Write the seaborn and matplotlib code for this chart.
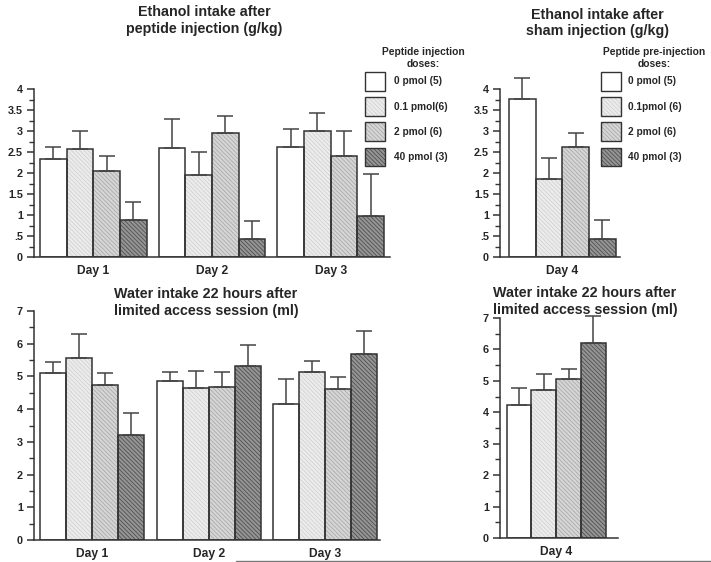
import numpy as np
import pandas as pd
import matplotlib
matplotlib.use('Agg')
import matplotlib.pyplot as plt
import seaborn as sns
from matplotlib.patches import Patch
from matplotlib.legend_handler import HandlerTuple
from matplotlib.ticker import MultipleLocator

# Data (rows = dose groups, columns = days)
days = ['Day 1', 'Day 2', 'Day 3']
day4 = ['Day 4']
doses = ['0 pmol (5)', '0.1 pmol(6)', '2 pmol (6)', '40 pmol (3)']
doses_sham = ['0 pmol (5)', '0.1pmol (6)', '2 pmol (6)', '40 pmol (3)']

eth_mean = [[2.34, 2.60, 2.61], [2.57, 1.95, 2.99], [2.05, 2.95, 2.40], [0.87, 0.44, 0.98]]
eth_sem = [[0.28, 0.69, 0.44], [0.44, 0.56, 0.44], [0.35, 0.41, 0.61], [0.43, 0.42, 0.99]]
eth4_mean = [[3.77], [1.85], [2.61], [0.44]]
eth4_sem = [[0.50], [0.51], [0.34], [0.43]]

wat_mean = [[5.10, 4.85, 4.16], [5.57, 4.64, 5.15], [4.75, 4.69, 4.61], [3.20, 5.33, 5.69]]
wat_sem = [[0.33, 0.29, 0.77], [0.74, 0.54, 0.32], [0.35, 0.45, 0.37], [0.67, 0.63, 0.71]]
wat4_mean = [[4.22], [4.72], [5.05], [6.21]]
wat4_sem = [[0.56], [0.50], [0.34], [0.85]]

eth_ticks = [0, 0.5, 1, 1.5, 2, 2.5, 3, 3.5, 4]
eth_ticklabels = ['0', '.5', '1', '1.5', '2', '2.5', '3', '3.5', '4']
wat_ticks = [0, 1, 2, 3, 4, 5, 6, 7]

# styling
face_colors = ['#ffffff', '#ececec', '#d6d6d6', '#959595']
hatch_colors = ['#ffffff', '#d2d2d2', '#ababab', '#505050']
hatches = ['', '\\' * 8, '\\' * 8, '\\' * 8]
edge = '#333333'

sns.set_style('ticks')
plt.rcParams['font.family'] = ['Liberation Sans', 'DejaVu Sans']
plt.rcParams['font.weight'] = 'bold'
plt.rcParams['hatch.linewidth'] = 0.6

fig = plt.figure(figsize=(7.11, 5.62), dpi=100)
W, H = 711, 562


def px_axes(x0, y_top, x1, y_bot):
    return fig.add_axes([x0 / W, 1 - y_bot / H, (x1 - x0) / W, (y_bot - y_top) / H])


def draw_panel(ax, cats, means, sems, width, xlim, ylim, ticks, ticklabels, minor):
    df = pd.DataFrame([(cats[j], doses[i], means[i][j])
                       for i in range(4) for j in range(len(cats))],
                      columns=['day', 'dose', 'value'])
    sns.barplot(data=df, x='day', y='value', hue='dose', order=cats, hue_order=doses,
                palette=face_colors, saturation=1, width=width, errorbar=None,
                legend=False, linewidth=0, ax=ax)
    for cont, hc, h in zip(ax.containers, hatch_colors, hatches):
        for bar in cont:
            bar.set_hatch(h)
            bar.set_edgecolor(hc)
            bar.set_linewidth(0)
    # outlines on top of the hatched fills
    sns.barplot(data=df, x='day', y='value', hue='dose', order=cats, hue_order=doses,
                palette=[edge] * 4, fill=False, width=width, errorbar=None,
                legend=False, linewidth=1.1, ax=ax)
    for cont, m, s in zip(ax.containers[:4], means, sems):
        xs = [b.get_x() + b.get_width() / 2 for b in cont]
        eb = ax.errorbar(xs, m, yerr=[np.zeros(len(m)), s], fmt='none', ecolor='#444444',
                         elinewidth=1.1, capsize=5.5, capthick=1.1, zorder=1)
        for art in eb.lines[1] + eb.lines[2]:
            art.set_clip_on(False)
    ax.set_xlim(*xlim)
    ax.set_ylim(*ylim)
    ax.set_yticks(ticks)
    ax.set_yticklabels(ticklabels)
    ax.yaxis.set_minor_locator(MultipleLocator(minor))
    ax.set_xlabel('')
    ax.set_ylabel('')
    ax.tick_params(axis='y', which='major', length=5, width=1.1, color=edge,
                   labelsize=7.8, pad=3)
    ax.tick_params(axis='y', which='minor', length=3.5, width=1.0, color=edge)
    ax.tick_params(axis='x', length=0, labelsize=8.7, pad=6)
    for lab in ax.get_xticklabels() + ax.get_yticklabels():
        lab.set_fontweight('bold')
    sns.despine(ax=ax)
    for sp in ['left', 'bottom']:
        ax.spines[sp].set_linewidth(1.1)
        ax.spines[sp].set_color(edge)


ax1 = px_axes(34, 89, 390, 257)
draw_panel(ax1, days, eth_mean, eth_sem, 0.9, (-0.5, 2.5), (0, 4),
           eth_ticks, eth_ticklabels, 0.25)
ax2 = px_axes(500, 89, 620, 257)
draw_panel(ax2, day4, eth4_mean, eth4_sem, 0.9, (-0.526, 0.487), (0, 4),
           eth_ticks, eth_ticklabels, 0.25)
ax3 = px_axes(34, 311, 380, 540)
draw_panel(ax3, days, wat_mean, wat_sem, 0.89, (-0.497, 2.468), (0, 7),
           wat_ticks, [str(t) for t in wat_ticks], 0.5)
ax4 = px_axes(500, 318, 618, 538)
draw_panel(ax4, day4, wat4_mean, wat4_sem, 0.9, (-0.511, 0.562), (0, 7),
           wat_ticks, [str(t) for t in wat_ticks], 0.5)


def title(x, y1, y2, l1, l2, size):
    fig.text(x / W, 1 - y1 / H, l1, ha='center', va='baseline', fontsize=size, fontweight='bold')
    fig.text(x / W, 1 - y2 / H, l2, ha='center', va='baseline', fontsize=size, fontweight='bold')


title(204, 16, 33.3, 'Ethanol intake after', 'peptide injection (g/kg)', 10.3)
title(597, 19.3, 35.5, 'Ethanol intake after', 'sham injection (g/kg)', 10.3)
title(206, 298.3, 315, 'Water intake 22 hours after', 'limited access session (ml)', 10.3)
title(585, 297.3, 314.3, 'Water intake 22 hours after', 'limited access session (ml)', 10.3)

title(423, 55, 67, 'Peptide injection', 'doses:', 7.4)
title(654, 55, 67, 'Peptide pre-injection', 'doses:', 7.4)

# legends: hatched fill with a dark outline on top
handles = [(Patch(facecolor=fc, edgecolor=hc, hatch=h, linewidth=0),
            Patch(facecolor='none', edgecolor=edge, linewidth=1.0))
           for fc, hc, h in zip(face_colors, hatch_colors, hatches)]
for x0, labels, gap in [(365, doses, 0.85), (601, doses_sham, 0.7)]:
    fig.legend(handles, labels, handler_map={tuple: HandlerTuple(ndivide=1, pad=0)},
               loc='upper left', bbox_to_anchor=(x0 / W, 1 - 72 / H), frameon=False,
               handlelength=1.98, handleheight=2.45, labelspacing=0.65,
               handletextpad=gap, borderpad=0, borderaxespad=0,
               prop={'weight': 'bold', 'size': 7.3})

# thin rule along the bottom edge
fig.add_artist(plt.Line2D([236 / W, 1.0], [1.5 / H, 1.5 / H], color='#777777', lw=1.0))

fig.savefig('out.png', dpi=100)
